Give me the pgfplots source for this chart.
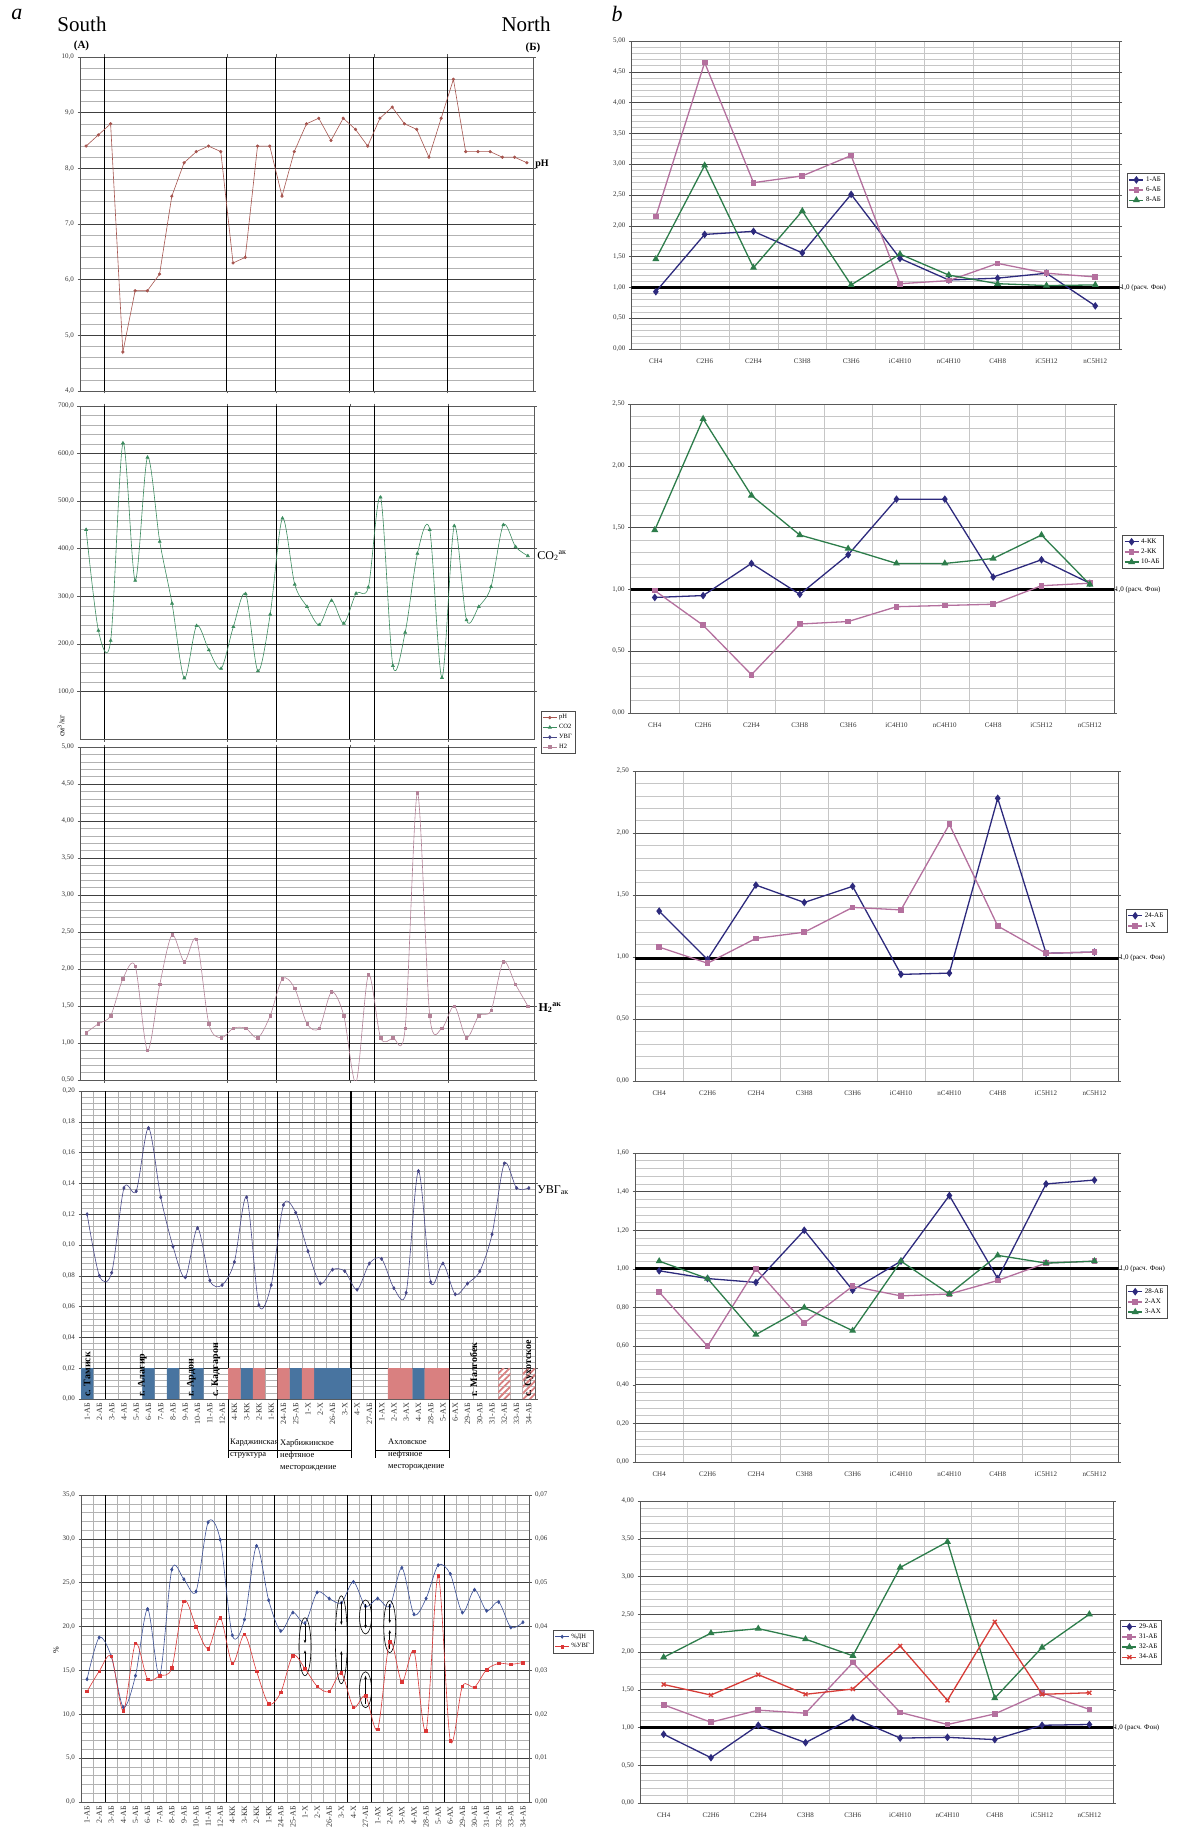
\documentclass[border=0pt]{standalone}
\usepackage{fontspec}
\setmainfont{Liberation Serif}
\usepackage{pgfplots}
\pgfplotsset{compat=1.18}
\usepackage{pgfplotstable}
\usetikzlibrary{patterns.meta,arrows.meta}

\definecolor{cpH}{RGB}{166,84,78}
\definecolor{cCO}{RGB}{60,140,95}
\definecolor{cH}{RGB}{180,130,152}
\definecolor{cUV}{RGB}{70,70,135}
\definecolor{barblue}{RGB}{72,116,160}
\definecolor{barred}{RGB}{217,128,128}
\definecolor{cDN}{RGB}{60,80,150}
\definecolor{cUVp}{RGB}{220,55,55}
\definecolor{rnavy}{RGB}{45,42,125}
\definecolor{rmauve}{RGB}{180,112,158}
\definecolor{rgreen}{RGB}{45,125,75}
\definecolor{rred}{RGB}{215,60,55}

\pgfplotstableread{
x pH CO2 H2 UVG DN UVGp
1 8.4 440 1.14 0.120 14.0 0.0252
2 8.6 228 1.26 0.080 18.75 0.0298
3 8.8 207 1.37 0.082 16.6 0.0332
4 4.7 622 1.87 0.137 10.8 0.0208
5 5.8 333 2.04 0.135 14.4 0.0362
6 5.8 592 0.90 0.176 22.0 0.0280
7 6.1 415 1.79 0.131 14.4 0.0288
8 7.5 285 2.46 0.099 26.5 0.0306
9 8.1 128 2.10 0.079 25.4 0.0458
10 8.3 238 2.40 0.111 24.0 0.0400
11 8.4 187 1.26 0.077 31.9 0.0350
12 8.3 148 1.07 0.074 29.9 0.0420
13 6.3 236 1.20 0.089 19.0 0.0316
14 6.4 305 1.20 0.131 20.8 0.0382
15 8.4 143 1.07 0.061 29.2 0.0298
16 8.4 262 1.37 0.074 23.0 0.0224
17 7.5 464 1.87 0.126 19.5 0.0250
18 8.3 325 1.74 0.121 21.6 0.0334
19 8.8 278 1.26 0.096 20.4 0.0304
20 8.9 240 1.20 0.075 23.9 0.0264
21 8.5 291 1.69 0.084 23.2 0.0252
22 8.9 243 1.37 0.083 22.7 0.0294
23 8.7 306 0.47 0.071 25.1 0.0216
24 8.4 319 1.92 0.088 22.3 0.0242
25 8.9 508 1.07 0.091 23.2 0.0166
26 9.1 154 1.07 0.072 22.3 0.0366
27 8.8 224 1.20 0.069 26.7 0.0274
28 8.7 390 4.38 0.148 21.4 0.0344
29 8.2 440 1.37 0.076 23.2 0.0162
30 8.9 129 1.20 0.088 27.0 0.0516
31 9.6 448 1.50 0.068 26.0 0.0140
32 8.3 250 1.07 0.075 21.6 0.0264
33 8.3 278 1.37 0.083 24.2 0.0262
34 8.3 320 1.44 0.107 21.8 0.0302
35 8.2 450 2.10 0.153 22.8 0.0316
36 8.2 404 1.79 0.137 19.9 0.0314
37 8.1 385 1.50 0.137 20.5 0.0318
}\leftdata

\pgfplotsset{
  base/.style={scale only axis, anchor=north west, clip mode=individual, scaled ticks=false,
    axis line style={black!65, line width=0.6pt},
    tick style={black!65, line width=0.5pt}, major tick length=2.5pt, minor tick length=0pt, tick align=outside,
    ymajorgrids, yminorgrids, xminorgrids,
    tick label style={font=\fontsize{7}{8}\selectfont, text=black!80},
    legend style={font=\fontsize{7}{8}\selectfont, draw=black!70, line width=0.4pt, inner sep=1.5pt, row sep=0pt, cells={anchor=west}, anchor=north west},
    legend image code/.code={\draw[mark repeat=2,mark phase=2,##1] plot coordinates {(0pt,0pt) (7pt,0pt) (14pt,0pt)};},
  },
  fmt/.style={yticklabel style={/pgf/number format/.cd,fixed,fixed zerofill,precision=#1,use comma,assume math mode=true}},
  lp/.style={base, xmin=0.5, xmax=37.5, xtick=\empty, minor xtick={1.5,2.5,...,36.5}, minor y tick num=4,
    major grid style={black!75, line width=0.55pt}, minor grid style={gray!60, line width=0.5pt},
    extra x ticks={2.5,12.5,16.5,22.5,24.5,30.5}, extra x tick labels={},
    extra x tick style={grid=major, major grid style={black, line width=1.1pt}},
  },
  lpx/.style={xtick={1,...,37}, xtick style={draw=none},
    xticklabels={1-АБ,2-АБ,3-АБ,4-АБ,5-АБ,6-АБ,7-АБ,8-АБ,9-АБ,10-АБ,11-АБ,12-АБ,4-КК,3-КК,2-КК,1-КК,24-АБ,25-АБ,1-Х,2-Х,26-АБ,3-Х,4-Х,27-АБ,1-АХ,2-АХ,3-АХ,4-АХ,28-АБ,5-АХ,6-АХ,29-АБ,30-АБ,31-АБ,32-АБ,33-АБ,34-АБ},
    xticklabel style={rotate=90, anchor=east, font=\fontsize{8}{9}\selectfont, inner sep=1.5pt}},
  rp/.style={base, xmin=0.5, xmax=10.5, ymin=0, xtick={1,...,10}, xtick style={draw=none},
    xticklabels={CH4,C2H6,C2H4,C3H8,C3H6,iC4H10,nC4H10,C4H8,iC5H12,nC5H12},
    xticklabel style={font=\fontsize{7}{8}\selectfont, yshift=-4pt},
    minor xtick={1.5,2.5,...,9.5}, minor y tick num=4,
    major grid style={black!70, line width=0.55pt}, minor grid style={gray!45, line width=0.5pt},
    fmt=2},
  fon/.style={black, line width=3pt, forget plot},
  sA/.style={rnavy, line width=1.3pt, mark=diamond*, mark size=2.8pt},
  sB/.style={rmauve, line width=1.3pt, mark=square*, mark size=2.2pt},
  sC/.style={rgreen, line width=1.3pt, mark=triangle*, mark size=2.8pt},
  sD/.style={rred, line width=1.3pt, mark=x, mark size=2.8pt, every mark/.append style={line width=1.3pt}},
}

\begin{document}
\begin{tikzpicture}
\path[use as bounding box] (0,0) rectangle (1180pt,-1827pt);

% ---------- pH ----------
\begin{axis}[lp, at={(80pt,-57pt)}, width=453pt, height=334pt, ymin=4, ymax=10, ytick={4,5,6,7,8,9,10}, fmt=1]
\addplot[cpH, line width=0.6pt, mark=*, mark size=1.3pt] table[x=x,y=pH]{\leftdata};
\end{axis}

% ---------- CO2 ----------
\begin{axis}[lp, at={(80pt,-406pt)}, width=454pt, height=333pt, ymin=0, ymax=700, ytick={100,200,300,400,500,600,700}, fmt=1,
  legend style={at={(1.015,0.084)}, anchor=north west, font=\fontsize{6.5}{7.5}\selectfont}]
\addlegendimage{cpH, line width=0.6pt, mark=*, mark size=1.3pt}
\addplot[cCO, line width=0.6pt, smooth, mark=triangle*, mark size=1.7pt, forget plot] table[x=x,y=CO2]{\leftdata};
\addlegendimage{cCO, line width=0.6pt, mark=triangle*, mark size=1.7pt}
\addlegendimage{cUV, line width=0.6pt, mark=diamond*, mark size=1.6pt}
\addlegendimage{cH, line width=0.6pt, mark=square*, mark size=1.2pt}
\legend{pH,CO2,УВГ,H2}
\end{axis}

% ---------- H2 ----------
\begin{axis}[lp, at={(80pt,-747pt)}, width=454pt, height=333pt, ymin=0.5, ymax=5, ytick={0.5,1,1.5,2,2.5,3,3.5,4,4.5,5}, fmt=2]
\addplot[cH, line width=0.6pt, smooth, mark=square*, mark size=1.2pt] table[x=x,y=H2]{\leftdata};
\end{axis}

% ---------- UVG ----------
\begin{axis}[lp, lpx, at={(81pt,-1091pt)}, width=454pt, height=308pt, ymin=0, ymax=0.2,
  ytick={0,0.02,0.04,0.06,0.08,0.1,0.12,0.14,0.16,0.18,0.2}, fmt=2]
\addplot[ybar, bar width=1, bar shift=0pt, fill=barblue, draw=none] coordinates {(1,0.02) (6,0.02) (8,0.02) (10,0.02) (14,0.02) (18,0.02) (20,0.02) (21,0.02) (22,0.02) (28,0.02)};
\addplot[ybar, bar width=1, bar shift=0pt, fill=barred, draw=none] coordinates {(13,0.02) (15,0.02) (17,0.02) (19,0.02) (26,0.02) (27,0.02) (29,0.02) (30,0.02)};
\addplot[ybar, bar width=1, bar shift=0pt, draw=none, pattern={Lines[angle=45,distance=4.5pt,line width=1.8pt]}, pattern color=barred] coordinates {(35,0.02) (37,0.02)};
\addplot[cUV, line width=0.6pt, smooth, mark=diamond*, mark size=1.6pt] table[x=x,y=UVG]{\leftdata};
\begin{scope}[every node/.style={rotate=90, anchor=west, inner sep=0pt, font=\bfseries\fontsize{10}{11}\selectfont}]
\node at (axis cs:1,0.0015) {с. Тамиск};
\node at (axis cs:5.5,0.0015) {г. Алагир};
\node at (axis cs:9.5,0.0015) {г. Ардон};
\node at (axis cs:11.5,0.0015) {с. Кадгарон};
\node at (axis cs:32.5,0.0015) {г. Малгобек};
\node at (axis cs:37,0.0015) {с. Сухотское};
\end{scope}
\end{axis}

% ---------- %DN / %UVG ----------
\begin{axis}[lp, lpx, at={(81pt,-1495pt)}, width=448pt, height=307pt, ymin=0, ymax=35, ytick={0,5,10,15,20,25,30,35}, fmt=1]
\addplot[cDN, line width=0.6pt, smooth, mark=diamond*, mark size=1.6pt] table[x=x,y=DN]{\leftdata};
\begin{scope}[line width=0.6pt]
\draw (axis cs:19,17.7) ellipse [x radius=6pt, y radius=29pt];
\draw (axis cs:22,18.5) ellipse [x radius=6pt, y radius=44pt];
\draw (axis cs:24,21.1) ellipse [x radius=6pt, y radius=17pt];
\draw (axis cs:24,12.8) ellipse [x radius=6pt, y radius=18pt];
\draw (axis cs:26,20.0) ellipse [x radius=6pt, y radius=26pt];
\draw[-{Stealth[length=3.5pt]}] (axis cs:19,20.3) -- (axis cs:19,18.1);
\draw[-{Stealth[length=3.5pt]}] (axis cs:19,15.2) -- (axis cs:19,17.3);
\draw[-{Stealth[length=3.5pt]}] (axis cs:22,22.8) -- (axis cs:22,20.2);
\draw[-{Stealth[length=3.5pt]}] (axis cs:22,14.5) -- (axis cs:22,17.2);
\draw[-{Stealth[length=3.5pt]}] (axis cs:24,22.6) -- (axis cs:24,19.8);
\draw[-{Stealth[length=3.5pt]}] (axis cs:24,11.2) -- (axis cs:24,14.4);
\draw[-{Stealth[length=3.5pt]}] (axis cs:26,22.6) -- (axis cs:26,20.4);
\draw[-{Stealth[length=3.5pt]}] (axis cs:26,17.4) -- (axis cs:26,19.6);
\end{scope}
\end{axis}
\begin{axis}[base, at={(81pt,-1495pt)}, width=448pt, height=307pt, xmin=0.5, xmax=37.5, ymin=0, ymax=0.07,
  axis y line*=right, axis x line=none, ymajorgrids=false, yminorgrids=false, xminorgrids=false,
  ytick={0,0.01,0.02,0.03,0.04,0.05,0.06,0.07}, fmt=2,
  legend style={at={(1.054,0.56)}, anchor=north west, font=\fontsize{6.5}{7.5}\selectfont}]
\addlegendimage{cDN, line width=0.6pt, mark=diamond*, mark size=1.6pt}
\addplot[cUVp, line width=0.6pt, smooth, mark=square*, mark size=1.3pt] table[x=x,y=UVGp]{\leftdata};
\legend{\%ДН,\%УВГ}
\end{axis}

% ---------- right 1 ----------
\begin{axis}[rp, at={(631.4pt,-41pt)}, width=488.3pt, height=308pt, ymax=5, ytick={0,0.5,1,1.5,2,2.5,3,3.5,4,4.5,5},
  legend style={at={(1.015,0.571)}}]
\addplot[fon] coordinates {(0.5,1) (10.5,1)};
\addplot[sA] coordinates {(1,0.93) (2,1.86) (3,1.91) (4,1.56) (5,2.51) (6,1.47) (7,1.12) (8,1.15) (9,1.23) (10,0.70)};
\addplot[sB] coordinates {(1,2.15) (2,4.65) (3,2.70) (4,2.81) (5,3.14) (6,1.06) (7,1.11) (8,1.39) (9,1.23) (10,1.17)};
\addplot[sC] coordinates {(1,1.46) (2,2.98) (3,1.32) (4,2.24) (5,1.04) (6,1.54) (7,1.20) (8,1.06) (9,1.03) (10,1.04)};
\legend{1-АБ,6-АБ,8-АБ}
\node[anchor=west, font=\fontsize{7}{8}\selectfont, inner sep=1pt] at (axis cs:10.5,1) {1,0 (расч. Фон)};
\end{axis}

% ---------- right 2 ----------
\begin{axis}[rp, at={(630.6pt,-404pt)}, width=483.4pt, height=309pt, ymax=2.5, ytick={0,0.5,1,1.5,2,2.5},
  legend style={at={(1.017,0.576)}}]
\addplot[fon] coordinates {(0.5,1) (10.5,1)};
\addplot[sA] coordinates {(1,0.935) (2,0.95) (3,1.21) (4,0.96) (5,1.28) (6,1.73) (7,1.73) (8,1.10) (9,1.24) (10,1.05)};
\addplot[sB] coordinates {(1,0.99) (2,0.71) (3,0.31) (4,0.72) (5,0.74) (6,0.86) (7,0.87) (8,0.88) (9,1.03) (10,1.05)};
\addplot[sC] coordinates {(1,1.48) (2,2.38) (3,1.76) (4,1.44) (5,1.33) (6,1.21) (7,1.21) (8,1.25) (9,1.44) (10,1.04)};
\legend{4-КК,2-КК,10-АБ}
\node[anchor=west, font=\fontsize{7}{8}\selectfont, inner sep=1pt] at (axis cs:10.5,1) {1,0 (расч. Фон)};
\end{axis}

% ---------- right 3 ----------
\begin{axis}[rp, at={(635pt,-771pt)}, width=483.6pt, height=310pt, ymax=2.5, ytick={0,0.5,1,1.5,2,2.5},
  legend style={at={(1.015,0.555)}}]
\addplot[fon] coordinates {(0.5,0.99) (10.5,0.99)};
\addplot[sA] coordinates {(1,1.37) (2,0.98) (3,1.58) (4,1.44) (5,1.57) (6,0.86) (7,0.87) (8,2.28) (9,1.03) (10,1.04)};
\addplot[sB] coordinates {(1,1.08) (2,0.95) (3,1.15) (4,1.20) (5,1.40) (6,1.38) (7,2.07) (8,1.25) (9,1.03) (10,1.04)};
\legend{24-АБ,1-Х}
\node[anchor=west, font=\fontsize{7}{8}\selectfont, inner sep=1pt] at (axis cs:10.5,0.99) {1,0 (расч. Фон)};
\end{axis}

% ---------- right 4 ----------
\begin{axis}[rp, at={(635pt,-1153pt)}, width=483.6pt, height=309pt, ymax=1.6, ytick={0,0.2,0.4,0.6,0.8,1,1.2,1.4,1.6},
  legend style={at={(1.015,0.573)}}]
\addplot[fon] coordinates {(0.5,1) (10.5,1)};
\addplot[sA] coordinates {(1,0.99) (2,0.95) (3,0.93) (4,1.20) (5,0.89) (6,1.04) (7,1.38) (8,0.95) (9,1.44) (10,1.46)};
\addplot[sB] coordinates {(1,0.88) (2,0.60) (3,1.00) (4,0.72) (5,0.91) (6,0.86) (7,0.87) (8,0.94) (9,1.03) (10,1.04)};
\addplot[sC] coordinates {(1,1.04) (2,0.95) (3,0.66) (4,0.80) (5,0.68) (6,1.04) (7,0.87) (8,1.07) (9,1.03) (10,1.04)};
\legend{28-АБ,2-АХ,3-АХ}
\node[anchor=west, font=\fontsize{7}{8}\selectfont, inner sep=1pt] at (axis cs:10.5,1) {1,0 (расч. Фон)};
\end{axis}

% ---------- right 5 ----------
\begin{axis}[rp, at={(640pt,-1501pt)}, width=473pt, height=302pt, ymax=4, ytick={0,0.5,1,1.5,2,2.5,3,3.5,4},
  legend style={at={(1.015,0.606)}}]
\addplot[fon] coordinates {(0.5,1) (10.5,1)};
\addplot[sA] coordinates {(1,0.91) (2,0.60) (3,1.03) (4,0.80) (5,1.13) (6,0.86) (7,0.87) (8,0.84) (9,1.03) (10,1.04)};
\addplot[sB] coordinates {(1,1.30) (2,1.07) (3,1.23) (4,1.19) (5,1.86) (6,1.20) (7,1.04) (8,1.18) (9,1.46) (10,1.24)};
\addplot[sC] coordinates {(1,1.93) (2,2.25) (3,2.31) (4,2.17) (5,1.95) (6,3.12) (7,3.46) (8,1.39) (9,2.06) (10,2.50)};
\addplot[sD] coordinates {(1,1.57) (2,1.43) (3,1.70) (4,1.44) (5,1.51) (6,2.08) (7,1.36) (8,2.40) (9,1.44) (10,1.46)};
\legend{29-АБ,31-АБ,32-АБ,34-АБ}
\node[anchor=west, font=\fontsize{7}{8}\selectfont, inner sep=1pt] at (axis cs:10.5,1) {1,0 (расч. Фон)};
\end{axis}

% ---------- texts ----------
\node[font=\fontsize{22}{24}\selectfont\itshape] at (17pt,-14pt) {a};
\node[font=\fontsize{22}{24}\selectfont\itshape] at (617pt,-14pt) {b};
\node[font=\fontsize{21}{24}\selectfont] at (82pt,-24pt) {South};
\node[font=\fontsize{21}{24}\selectfont] at (526pt,-24pt) {North};
\node[font=\bfseries\fontsize{11}{12}\selectfont] at (81.5pt,-46pt) {(А)};
\node[font=\bfseries\fontsize{11}{12}\selectfont] at (533pt,-47.5pt) {(Б)};
\node[font=\bfseries\fontsize{10}{12}\selectfont] at (542pt,-164pt) {pH};
\node[font=\fontsize{12}{14}\selectfont] at (552pt,-556pt) {CO\textsubscript{2}\textsuperscript{ак}};
\node[font=\bfseries\fontsize{12}{14}\selectfont] at (550pt,-1008pt) {H\textsubscript{2}\textsuperscript{ак}};
\node[font=\fontsize{12}{14}\selectfont] at (553pt,-1190pt) {УВГ\textsubscript{ак}};
\node[rotate=90, font=\fontsize{8}{9}\selectfont] at (61pt,-726pt) {см\textsuperscript{3}/кг};
\node[rotate=90, font=\fontsize{8}{9}\selectfont] at (56pt,-1650pt) {\%};

% group annotations under the УВГ panel
\begin{scope}[line width=0.8pt]
\foreach \xx in {228.3,277.4,351,375.5,449} {\draw (\xx pt,-1399pt) -- (\xx pt,-1458pt);}
\draw (228.3pt,-1450pt) -- (351pt,-1450pt);
\draw (375.5pt,-1450pt) -- (449pt,-1450pt);
\end{scope}
\begin{scope}[every node/.style={anchor=north west, align=left, inner sep=0pt, font=\fontsize{8.5}{12}\selectfont}]
\node at (230pt,-1439pt) {Карджинская\\структура};
\node at (280pt,-1439pt) {Харбижинское\\нефтяное\\месторождение};
\node at (388pt,-1439pt) {Ахловское\\нефтяное\\месторождение};
\end{scope}
\end{tikzpicture}
\end{document}
